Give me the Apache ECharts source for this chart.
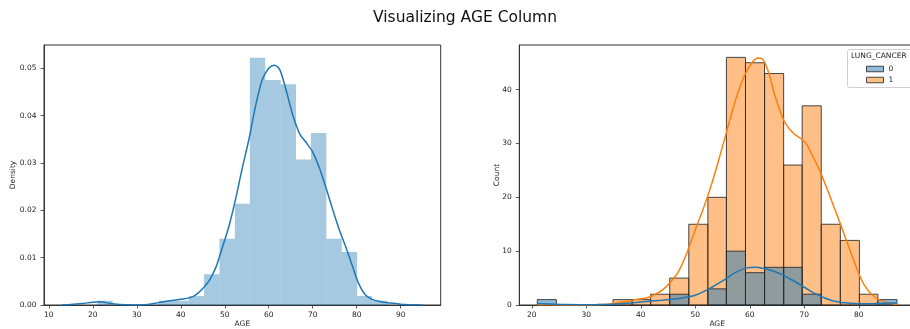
<!DOCTYPE html>
<html>
<head>
<meta charset="utf-8">
<script src="https://cdn.jsdelivr.net/npm/echarts@6/dist/echarts.min.js"></script>
<style>
html,body{margin:0;padding:0;background:#fff;}
#chart{width:910px;height:329px;}
</style>
</head>
<body>
<div id="chart"></div>
<script>
// ---- data ----
const chartTitle = 'Visualizing AGE Column';
const ageBinEdges = [21.0, 24.5, 27.9, 31.4, 34.9, 38.4, 41.8, 45.3, 48.8, 52.3, 55.7, 59.2, 62.7, 66.2, 69.6, 73.1, 76.6, 80.1, 83.5, 87.0];
const densityValues = [0.0009, 0, 0, 0, 0.0009, 0.0009, 0.0019, 0.0065, 0.0140, 0.0214, 0.0522, 0.0475, 0.0466, 0.0307, 0.0363, 0.0140, 0.0112, 0.0019, 0.0009];
const countCancer1 = [0, 0, 0, 0, 1, 1, 2, 5, 15, 20, 46, 45, 43, 26, 37, 15, 12, 2, 0];
const countCancer0 = [1, 0, 0, 0, 0, 0, 0, 2, 0, 3, 10, 6, 7, 7, 2, 0, 0, 0, 1];

const kdeLeftX = [13, 15, 17.5, 20, 21.5, 23, 25, 27.5, 30, 32.5, 35, 37.5, 40, 42, 43.5, 45, 46.5, 48, 49.5, 51, 52.5, 54, 55.5, 57, 58.5, 60, 61.3, 62.5, 64, 65.5, 67, 68.5, 70, 71.5, 73, 74.5, 76, 77.5, 79, 80.5, 82, 83.5, 85, 87, 89, 91, 95];
const kdeLeftY = [0.0000, 0.0001, 0.0003, 0.0006, 0.0007, 0.0005, 0.0002, 0.00005, 0.00002, 0.0001, 0.0005, 0.0009, 0.0012, 0.0015, 0.0022, 0.0035, 0.0052, 0.0080, 0.0123, 0.0168, 0.0225, 0.0290, 0.0350, 0.0420, 0.0475, 0.0500, 0.0506, 0.0497, 0.0452, 0.0400, 0.0362, 0.0343, 0.0323, 0.0290, 0.0248, 0.0203, 0.0160, 0.0123, 0.0083, 0.0044, 0.0021, 0.0012, 0.0008, 0.0005, 0.0003, 0.0001, 0.0000];

const kde1X = [21, 25, 30, 33, 35, 37, 39, 41, 42.5, 44, 45.5, 47, 48.5, 50, 51.5, 53, 54.5, 56, 57.5, 59, 60.5, 61.6, 62.5, 63.5, 64.5, 65.5, 66.5, 68, 69.5, 70.5, 71.6, 72.8, 74, 75.5, 77, 78.5, 80, 81, 82.5, 84, 85.5, 87];
const kde1Y = [0.05, 0.02, 0.02, 0.1, 0.3, 0.6, 1.0, 1.3, 1.9, 2.8, 4.3, 6.4, 9.8, 14.0, 18.0, 22.5, 27.7, 33.2, 38.5, 42.6, 45.2, 45.9, 45.5, 43.0, 39.2, 36.2, 33.8, 31.9, 30.8, 29.7, 27.5, 25.0, 22.0, 18.0, 14.0, 9.8, 5.8, 3.7, 1.8, 0.8, 0.35, 0.1];
const kde0X = [21, 23, 26, 29, 32, 35, 38, 41, 44, 47, 50, 52.5, 55, 57.5, 59.5, 61, 62.5, 64, 66, 68, 70, 72, 74, 76, 78, 80, 82, 84, 86, 87];
const kde0Y = [0.3, 0.2, 0.08, 0.05, 0.08, 0.15, 0.35, 0.65, 0.9, 1.2, 1.8, 3.0, 4.5, 6.1, 6.9, 7.0, 6.8, 6.4, 5.6, 4.5, 3.3, 2.1, 1.2, 0.6, 0.35, 0.25, 0.25, 0.3, 0.35, 0.35];

const xTicksLeft = [10, 20, 30, 40, 50, 60, 70, 80, 90];
const yTicksLeft = [0, 0.01, 0.02, 0.03, 0.04, 0.05];
const yTickLabelsLeft = ['0.00', '0.01', '0.02', '0.03', '0.04', '0.05'];
const xTicksRight = [20, 30, 40, 50, 60, 70, 80];
const yTicksRight = [0, 10, 20, 30, 40];
const legendTitle = 'LUNG_CANCER';
const hueNames = ['0', '1'];

// ---- build ----
const FONT = 'DejaVu Sans';
const AX = '#333';
function binData(vals) {
  return vals.map((v, i) => [ageBinEdges[i], ageBinEdges[i + 1], v]);
}
function pairs(xs, ys) { return xs.map((x, i) => [x, ys[i]]); }
function histRender(fill, stroke, lw) {
  return function (params, api) {
    const v = api.value(2);
    if (!v) return null;
    const p0 = api.coord([api.value(0), v]);
    const p1 = api.coord([api.value(1), 0]);
    return {
      type: 'rect',
      shape: { x: p0[0], y: p0[1], width: p1[0] - p0[0], height: p1[1] - p0[1] },
      style: { fill: fill, stroke: stroke, lineWidth: lw }
    };
  };
}
function xAxisCfg(grid, min, max, ticks) {
  return {
    type: 'value', gridIndex: grid, min: min, max: max,
    splitLine: { show: false },
    axisLine: { show: true, onZero: false, lineStyle: { color: AX, width: 1 } },
    axisTick: { show: true, length: 3.5, lineStyle: { color: AX, width: 0.8 }, customValues: ticks },
    axisLabel: { customValues: ticks, fontSize: 7.5, color: '#222', margin: 6, fontFamily: FONT },
    name: 'AGE', nameLocation: 'middle', nameGap: 15, nameMoveOverlap: false,
    nameTextStyle: { fontSize: 7.5, color: '#222', fontFamily: FONT }
  };
}
function yAxisCfg(grid, max, ticks, fmt, name, gap) {
  return {
    type: 'value', gridIndex: grid, min: 0, max: max,
    splitLine: { show: false },
    axisLine: { show: true, onZero: false, lineStyle: { color: AX, width: 1 } },
    axisTick: { show: true, length: 3.5, lineStyle: { color: AX, width: 0.8 }, customValues: ticks },
    axisLabel: { customValues: ticks, fontSize: 7.5, color: '#222', margin: 7.5, fontFamily: FONT, formatter: fmt },
    name: name, nameLocation: 'middle', nameGap: gap, nameRotate: 90, nameMoveOverlap: false,
    nameTextStyle: { fontSize: 7.5, color: '#222', fontFamily: FONT }
  };
}

const chart = echarts.init(document.getElementById('chart'), null, { renderer: 'canvas' });
const edge = 'rgba(40,40,40,0.85)';
const fill0 = 'rgba(31,119,180,0.5)';
const fill1 = 'rgba(255,127,14,0.5)';
chart.setOption({
  animation: false,
  backgroundColor: '#fff',
  title: {
    text: chartTitle, left: 368, top: 5,
    textStyle: { fontSize: 15.5, fontWeight: 'normal', color: '#111', fontFamily: FONT }
  },
  grid: [
    { left: 44, right: 469.3, top: 45, bottom: 24, show: true, borderColor: AX, borderWidth: 1, backgroundColor: 'transparent', outerBoundsMode: 'none', containLabel: false },
    { left: 519.3, right: -5, top: 45, bottom: 24, show: true, borderColor: AX, borderWidth: 1, backgroundColor: 'transparent', outerBoundsMode: 'none', containLabel: false }
  ],
  xAxis: [
    xAxisCfg(0, 8.9, 99.1, xTicksLeft),
    xAxisCfg(1, 17.7, 90.3, xTicksRight)
  ],
  yAxis: [
    yAxisCfg(0, 0.0549, yTicksLeft, v => yTickLabelsLeft[yTicksLeft.indexOf(v)] ?? v.toFixed(2), 'Density', 27),
    yAxisCfg(1, 48.3, yTicksRight, v => String(v), 'Count', 18)
  ],
  legend: {
    orient: 'vertical', left: 861, top: 60, z: 5,
    icon: 'rect', itemWidth: 17, itemHeight: 5.5, itemGap: 3,
    textStyle: { fontSize: 7.5, color: '#222', fontFamily: FONT },
    data: [
      { name: hueNames[0], itemStyle: { color: fill0, borderColor: edge, borderWidth: 1 } },
      { name: hueNames[1], itemStyle: { color: fill1, borderColor: edge, borderWidth: 1 } }
    ],
    selectedMode: false
  },
  graphic: [
    { type: 'rect', z: 3, shape: { x: 847.5, y: 49.5, width: 80, height: 38, r: 2 },
      style: { fill: 'rgba(255,255,255,0.8)', stroke: '#d0d0d0', lineWidth: 1 } },
    { type: 'text', z: 4, x: 851, y: 56, style: { text: legendTitle, fontSize: 7.5, fill: '#222', fontFamily: FONT, verticalAlign: 'middle' } }
  ],
  series: [
    { type: 'custom', name: 'density', xAxisIndex: 0, yAxisIndex: 0, z: 1,
      renderItem: histRender('rgba(31,119,180,0.4)', null, 0),
      encode: { x: [0, 1], y: 2 }, data: binData(densityValues) },
    { type: 'line', name: 'kdeDensity', xAxisIndex: 0, yAxisIndex: 0, z: 3,
      data: pairs(kdeLeftX, kdeLeftY), showSymbol: false, smooth: 0.3,
      lineStyle: { color: '#1f77b4', width: 1.5 }, itemStyle: { color: '#1f77b4' } },
    { type: 'custom', name: hueNames[1], xAxisIndex: 1, yAxisIndex: 1, z: 1,
      itemStyle: { color: fill1 },
      renderItem: histRender(fill1, edge, 1),
      encode: { x: [0, 1], y: 2 }, data: binData(countCancer1) },
    { type: 'custom', name: hueNames[0], xAxisIndex: 1, yAxisIndex: 1, z: 2,
      itemStyle: { color: fill0 },
      renderItem: histRender(fill0, edge, 1),
      encode: { x: [0, 1], y: 2 }, data: binData(countCancer0) },
    { type: 'line', name: 'kde1', xAxisIndex: 1, yAxisIndex: 1, z: 3,
      data: pairs(kde1X, kde1Y), showSymbol: false, smooth: 0.3,
      lineStyle: { color: '#ff7f0e', width: 1.5 }, itemStyle: { color: '#ff7f0e' } },
    { type: 'line', name: 'kde0', xAxisIndex: 1, yAxisIndex: 1, z: 3,
      data: pairs(kde0X, kde0Y), showSymbol: false, smooth: 0.3,
      lineStyle: { color: '#1f77b4', width: 1.5 }, itemStyle: { color: '#1f77b4' } }
  ]
});
</script>
</body>
</html>
